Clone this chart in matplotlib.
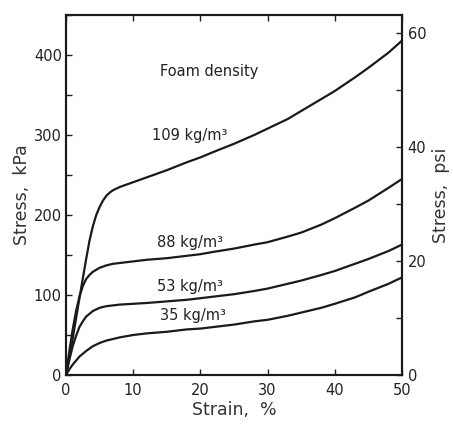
import matplotlib
matplotlib.use("Agg")
import matplotlib.pyplot as plt
from matplotlib.ticker import MultipleLocator

plt.rcParams['font.family'] = ['DejaVu Sans']

# Data (strain %, stress kPa)
strain_109 = [0, 0.5, 1, 2, 3, 3.5, 4, 4.5, 5, 5.5, 6, 6.5, 7, 8, 10, 12, 15, 18, 20, 22, 25, 28, 30, 33, 35, 38, 40, 43, 45, 48, 50]
stress_109 = [0, 22, 46, 96, 145, 168, 186, 200, 210, 218, 224, 228, 231, 235, 241, 247, 256, 266, 272, 279, 289, 300, 308, 320, 330, 345, 355, 372, 384, 403, 418]

strain_88 = [0, 0.5, 1, 1.5, 2, 2.5, 3, 3.5, 4, 5, 6, 7, 8, 10, 12, 15, 18, 20, 22, 25, 28, 30, 33, 35, 38, 40, 43, 45, 48, 50]
stress_88 = [0, 30, 57, 80, 98, 111, 120, 125, 129, 134, 137, 139, 140, 142, 144, 146, 149, 151, 154, 158, 163, 166, 173, 178, 188, 196, 209, 218, 234, 245]

strain_53 = [0, 0.5, 1, 1.5, 2, 2.5, 3, 4, 5, 6, 7, 8, 10, 12, 15, 18, 20, 22, 25, 28, 30, 33, 35, 38, 40, 43, 45, 48, 50]
stress_53 = [0, 19, 36, 49, 60, 67, 73, 80, 84, 86, 87, 88, 89, 90, 92, 94, 96, 98, 101, 105, 108, 114, 118, 125, 130, 139, 145, 155, 163]

strain_35 = [0, 0.5, 1, 2, 3, 4, 5, 6, 7, 8, 10, 12, 15, 18, 20, 22, 25, 28, 30, 33, 35, 38, 40, 43, 45, 48, 50]
stress_35 = [0, 7, 13, 23, 30, 36, 40, 43, 45, 47, 50, 52, 54, 57, 58, 60, 63, 67, 69, 74, 78, 84, 89, 97, 104, 114, 122]

densities = ["109 kg/m³", "88 kg/m³", "53 kg/m³", "35 kg/m³"]
label_pos = [(12.8, 299), (13.5, 166), (13.5, 110), (14.0, 74)]

x_ticks = [0, 10, 20, 30, 40, 50]
y_ticks_kpa = [0, 100, 200, 300, 400]
y_ticks_psi = [0, 20, 40, 60]

fig = plt.figure(figsize=(4.53, 4.24), dpi=100)
ax = fig.add_axes([0.1457, 0.1156, 0.7417, 0.849])

series = [(strain_109, stress_109), (strain_88, stress_88), (strain_53, stress_53), (strain_35, stress_35)]
for (sx, sy) in series:
    ax.plot(sx, sy, color='#1a1a1a', lw=1.6, solid_capstyle='round')

for name, (lx, ly) in zip(densities, label_pos):
    ax.text(lx, ly, name, fontsize=10.5, color='#222222', ha='left', va='center')
ax.text(14.0, 379, "Foam density", fontsize=10.5, color='#222222', ha='left', va='center')

ax.set_xlim(0, 50)
ax.set_ylim(0, 450)
ax.set_xticks(x_ticks)
ax.set_yticks(y_ticks_kpa)
ax.yaxis.set_minor_locator(MultipleLocator(50))
ax.tick_params(axis='both', which='both', direction='in', length=4, width=1, labelsize=10.5, colors='#222222')
ax.tick_params(axis='x', top=True, pad=6)
ax.tick_params(axis='y', which='both', right=False, pad=3)
for s in ax.spines.values():
    s.set_linewidth(1.5)
    s.set_color('#1a1a1a')

ax.set_xlabel("Strain,  %", fontsize=12.5, color='#333333', labelpad=2)
ax.set_ylabel("Stress,  kPa", fontsize=12.5, color='#333333', labelpad=2)

ax2 = ax.twinx()
ax2.set_ylim(0, 63.2)
ax2.set_yticks(y_ticks_psi)
ax2.yaxis.set_minor_locator(MultipleLocator(10))
ax2.tick_params(axis='y', which='both', direction='in', length=4, width=1, labelsize=10.5, colors='#222222', pad=4)
ax2.set_ylabel("Stress,  psi", fontsize=12.5, color='#333333', labelpad=4)
for s in ax2.spines.values():
    s.set_linewidth(1.5)
    s.set_color('#1a1a1a')

fig.savefig("out.png", dpi=100, facecolor='white')
